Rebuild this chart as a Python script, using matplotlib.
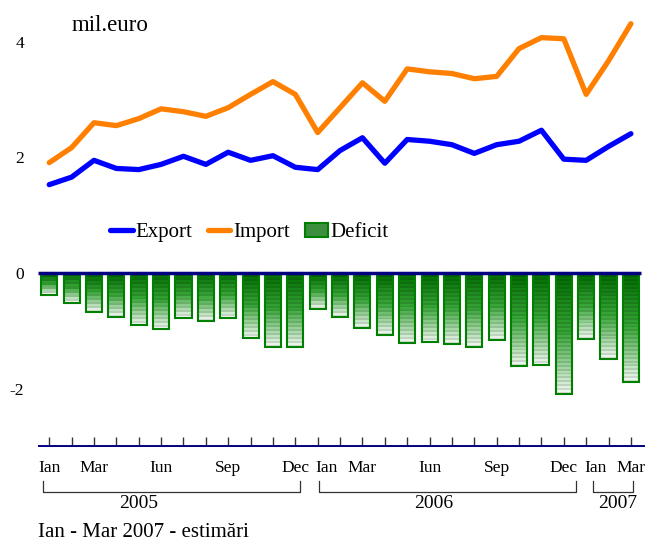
import matplotlib.pyplot as plt
import numpy as np
from matplotlib.lines import Line2D
from matplotlib.patches import Patch

plt.rcParams['font.family'] = ['Liberation Serif', 'DejaVu Serif']

# monthly values, Jan 2005 - Mar 2007 (mil. euro)
export = [1.53, 1.66, 1.95, 1.81, 1.79, 1.88, 2.02, 1.88, 2.09, 1.95, 2.03, 1.83,
          1.79, 2.12, 2.34, 1.90, 2.31, 2.28, 2.22, 2.07, 2.22, 2.28, 2.47, 1.97,
          1.95, 2.19, 2.41]
imports = [1.91, 2.17, 2.60, 2.55, 2.67, 2.84, 2.79, 2.71, 2.86, 3.09, 3.31, 3.09,
           2.43, 2.86, 3.29, 2.97, 3.53, 3.48, 3.45, 3.36, 3.40, 3.88, 4.07, 4.05,
           3.09, 3.67, 4.31]
deficit = [-0.38, -0.52, -0.67, -0.76, -0.90, -0.97, -0.78, -0.83, -0.78, -1.12, -1.28, -1.28,
           -0.62, -0.76, -0.95, -1.07, -1.21, -1.19, -1.22, -1.28, -1.16, -1.60, -1.59, -2.09,
           -1.14, -1.48, -1.88]

month_labels = {0: 'Ian', 2: 'Mar', 5: 'Iun', 8: 'Sep', 11: 'Dec'}
years = ['2005', '2006', '2007']
year_start = [0, 12, 24]

x = np.arange(len(export))

fig = plt.figure(figsize=(6.45, 5.41), dpi=100)
ax = fig.add_axes([0.059, 0.174, 0.941, 0.826])

# deficit bars with striped gradient fill
bars = ax.bar(x, deficit, width=0.72, color='none', edgecolor='#008000', lw=1.5, zorder=3)
c_top = np.array([0.0, 0.42, 0.0])
c_mid = np.array([0.22, 0.66, 0.22])
c_bot = np.array([0.95, 0.98, 0.95])
for b, d in zip(bars, deficit):
    n = max(8, int(abs(d) * 30))
    t = np.linspace(0, 1, n)[:, None]
    col = np.where(t < 0.5, c_top + (c_mid - c_top) * t * 2, c_mid + (c_bot - c_mid) * (t - 0.5) * 2)
    col[1::2] *= 0.88
    img = ax.imshow(col[:, None, :], extent=[b.get_x(), b.get_x() + b.get_width(), d, 0],
                    aspect='auto', origin='upper', zorder=2, interpolation='nearest')
    img.set_clip_path(b)

ax.plot(x, export, color='#0000ff', lw=3.8, solid_capstyle='round', zorder=4)
ax.plot(x, imports, color='#ff8000', lw=3.8, solid_capstyle='round', zorder=4)

ax.hlines(0, -0.5, 26.45, color='#000080', lw=2.5, zorder=5)
ax.axhline(-3, color='#000080', lw=2.8, zorder=5)
ax.vlines(x, -3, -2.83, color='#333333', lw=1, zorder=4)

ax.set_xlim(-0.5, 26.63)
ax.set_ylim(-3, 4.72)
ax.set_yticks([-2, 0, 2, 4])
ax.set_yticklabels(['-2', '0', '2', '4'], fontsize=12.5)
ax.tick_params(axis='y', length=0, pad=10)
ax.set_xticks([])
for s in ax.spines.values():
    s.set_visible(False)

# month labels under the axis
trans = ax.get_xaxis_transform()
for ys in year_start:
    for m, lab in month_labels.items():
        i = ys + m
        if i > 26:
            continue
        off = 0.4 if (m == 0 and ys > 0) else 0
        ax.text(i + off, -0.029, lab, transform=trans, ha='center', va='top', fontsize=12.5,
                clip_on=False)

# year brackets
bracket_l = [-0.27, 12.06, 24.3]
bracket_r = [11.2, 23.55, 26.1]
year_x = [4.0, 17.2, 25.4]
for yr, l, r, yx in zip(years, bracket_l, bracket_r, year_x):
    ax.plot([l, l, r, r], [-0.076, -0.101, -0.101, -0.076], transform=trans,
            color='#333333', lw=0.9, clip_on=False)
    ax.text(yx, -0.108, yr, transform=trans, ha='center', va='top', fontsize=14, clip_on=False)

ax.text(0.056, 0.944, 'mil.euro', transform=ax.transAxes, ha='left', va='center', fontsize=16.5)

handles = [Line2D([], [], color='#0000ff', lw=3.8, solid_capstyle='round'),
           Line2D([], [], color='#ff8000', lw=3.8, solid_capstyle='round'),
           Patch(facecolor='#3d8f3d', edgecolor='#008000', lw=1.5)]
ax.legend(handles, ['Export', 'Import', 'Deficit'], loc='center', bbox_to_anchor=(0.348, 0.48),
          ncol=3, frameon=False, fontsize=15, handlelength=1.1, handletextpad=0.12,
          columnspacing=0.75)

fig.text(0.059, 0.015, 'Ian - Mar 2007 - estimări', ha='left', va='center', fontsize=15)

fig.savefig('out.png', dpi=100)
